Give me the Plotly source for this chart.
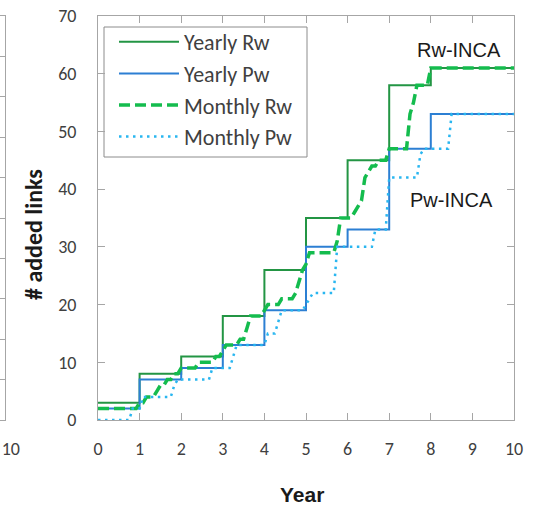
import plotly.graph_objects as go

# ---------------- data ----------------
years = [0, 1, 2, 3, 4, 5, 6, 7, 8, 9, 10]
yearly_rw = [3, 8, 11, 18, 26, 35, 45, 58, 61, 61, 61]
yearly_pw = [2, 7, 9, 13, 19, 30, 33, 47, 53, 53, 53]

months = [m / 12 for m in range(121)]
monthly_rw = (
    [2, 2, 2, 2, 2, 2, 2, 2, 2, 2, 2, 2]
    + [3, 3, 4, 4, 4, 5, 6, 6, 7, 7, 8, 8]
    + [9, 9, 9, 9, 9, 10, 10, 10, 10, 10, 11, 11]
    + [12, 13, 13, 13, 13, 14, 14, 16, 18, 18, 18, 18]
    + [19, 20, 20, 20, 20, 21, 21, 21, 21, 22, 24, 26]
    + [27, 29, 29, 29, 29, 29, 29, 29, 29, 31, 35, 35]
    + [35, 35, 36, 37, 38, 42, 43, 44, 44, 45, 45, 45]
    + [47, 47, 47, 47, 47, 47, 53, 55, 58, 58, 58, 58]
    + [61] * 25
)
monthly_pw = (
    [0, 0, 0, 0, 0, 0, 0, 0, 0, 0, 2, 2]
    + [2, 4, 4, 4, 4, 4, 4, 4, 4, 4, 6, 7]
    + [7, 7, 7, 7, 7, 7, 7, 7, 7, 9, 9, 9]
    + [9, 9, 9, 11, 13, 13, 13, 13, 13, 13, 13, 13]
    + [13, 15, 15, 15, 17, 19, 19, 19, 19, 19, 19, 19]
    + [20, 21, 22, 22, 22, 22, 22, 22, 22, 30, 30, 30]
    + [30, 30, 30, 30, 30, 30, 30, 30, 33, 33, 33, 33]
    + [42, 42, 42, 42, 42, 42, 42, 42, 42, 46, 47, 47]
    + [47, 47, 47, 47, 47, 47, 53]
    + [53] * 18
)

x_ticks = list(range(0, 11))
y_ticks = list(range(0, 71, 10))

# ---------------- figure ----------------
W, H = 538, 506
TICKFONT = dict(family="Carlito, Lato, sans-serif", size=18, color="#404040")
AXCOL = "#A6A6A6"

fig = go.Figure()
fig.add_trace(go.Scatter(x=years, y=yearly_rw, mode="lines", name="Yearly Rw",
                         line=dict(color="#239544", width=2, shape="hv"),
                         legendgroup="a"))
fig.add_trace(go.Scatter(x=years, y=yearly_pw, mode="lines", name="Yearly Pw",
                         line=dict(color="#2C7FD3", width=2, shape="hv"),
                         legendgroup="b"))
fig.add_trace(go.Scatter(x=months, y=monthly_rw, mode="lines", name="Monthly Rw",
                         line=dict(color="#14BC4E", width=3.5, dash="11px,5px"),
                         legendgroup="c"))
fig.add_trace(go.Scatter(x=months, y=monthly_pw, mode="lines", name="Monthly Pw",
                         line=dict(color="#29B6F0", width=2.5, dash="2.5px,4.5px"),
                         legendgroup="d"))

# neighbouring panel edge (cut off at the left border)
fig.add_trace(go.Scatter(x=[10], y=[0], mode="lines", showlegend=False,
                         xaxis="x2", yaxis="y2", hoverinfo="skip",
                         line=dict(color="rgba(0,0,0,0)")))

fig.update_layout(
    width=W, height=H,
    margin=dict(l=0, r=0, t=0, b=0, autoexpand=False),
    paper_bgcolor="white", plot_bgcolor="white",
    showlegend=True,
    legend=dict(x=114 / W, y=1 - 21 / H, xanchor="left", yanchor="top",
                bgcolor="rgba(0,0,0,0)", borderwidth=0,
                font=dict(family="Carlito, Lato, sans-serif", size=22, color="#404040"),
                traceorder="grouped", tracegroupgap=0, itemwidth=60),
    shapes=[dict(type="rect", xref="paper", yref="paper",
                 x0=104 / W, x1=307 / W, y0=1 - 157 / H, y1=1 - 27 / H,
                 line=dict(color="#8C8C8C", width=1), fillcolor="white",
                 layer="below")],
    xaxis=dict(domain=[98 / W, 514 / W], range=[0, 10], tickvals=x_ticks,
               ticks="inside", ticklen=7, tickcolor=AXCOL, showline=True,
               linecolor=AXCOL, linewidth=1, mirror="ticks", showgrid=False,
               zeroline=False, tickfont=TICKFONT, ticklabelstandoff=12,
               automargin=False),
    yaxis=dict(domain=[86 / H, 490 / H], range=[0, 70], tickvals=y_ticks,
               ticks="inside", ticklen=7, tickcolor=AXCOL, showline=True,
               linecolor=AXCOL, linewidth=1, mirror="ticks", showgrid=False,
               zeroline=False, tickfont=TICKFONT, ticklabelstandoff=17,
               automargin=False),
    xaxis2=dict(domain=[0, 5 / W], range=[9.5, 10.02], anchor="y2", tickvals=[10],
                ticktext=["10"], ticks="", showline=True, linecolor=AXCOL,
                mirror=True, showgrid=False, zeroline=False, tickfont=TICKFONT,
                ticklabelstandoff=12, ticklabelshift=6, ticklabeloverflow="allow",
                automargin=False),
    yaxis2=dict(domain=[86 / H, 490 / H], range=[0, 10], anchor="x2", side="right",
                tickvals=list(range(0, 11)), ticks="inside", ticklen=5,
                tickcolor=AXCOL, showline=True, linecolor=AXCOL,
                showticklabels=False, showgrid=False, zeroline=False,
                automargin=False),
    annotations=[
        dict(text="Rw-INCA", x=459 / W, y=1 - 50 / H, xref="paper", yref="paper",
             xanchor="center", yanchor="middle", showarrow=False,
             font=dict(family="Liberation Sans, Arial", size=20, color="#1A1A1A")),
        dict(text="Pw-INCA", x=451 / W, y=1 - 200 / H, xref="paper", yref="paper",
             xanchor="center", yanchor="middle", showarrow=False,
             font=dict(family="Liberation Sans, Arial", size=20, color="#1A1A1A")),
        dict(text="<b>Year</b>", x=302 / W, y=1 - 494 / H, xref="paper", yref="paper",
             xanchor="center", yanchor="middle", showarrow=False,
             font=dict(family="Liberation Sans, Arial", size=21, color="#1A1A1A")),
        dict(text="<b># added links</b>", x=33 / W, y=1 - 235 / H, xref="paper",
             yref="paper", xanchor="center", yanchor="middle", textangle=-90,
             showarrow=False,
             font=dict(family="Carlito, Lato, sans-serif", size=24, color="#1A1A1A")),
    ],
)

fig.write_html("out.html", config={"displayModeBar": False},
               post_script="document.body.style.margin='0px';")
